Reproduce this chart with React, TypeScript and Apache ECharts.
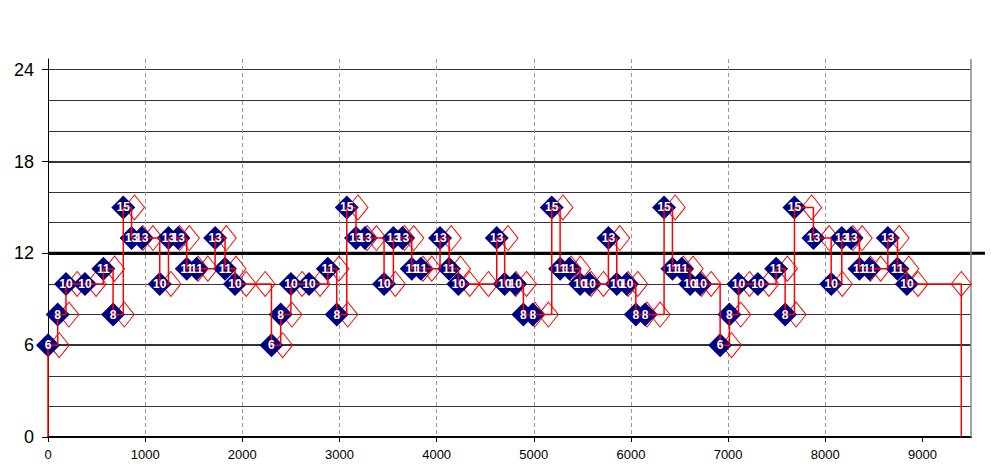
import React, { useEffect, useRef } from 'react';
import * as echarts from 'echarts';

// Actual (blue, labelled) points
const blueX = [
  0, 100, 185, 380, 570, 670, 775, 860, 965, 1150, 1240, 1340, 1428, 1530, 1720, 1822, 1925,
  2300, 2395, 2500, 2687, 2880, 2972, 3075, 3170, 3263, 3459, 3555, 3648, 3744, 3837, 4035, 4128, 4224,
  4619, 4700, 4808, 4893, 4990, 5185, 5271, 5367, 5477, 5572, 5768, 5854, 5957, 6050, 6146,
  6341, 6427, 6523, 6609, 6712, 6918, 7014, 7107, 7306, 7494, 7587, 7683, 7878, 8061, 8170,
  8266, 8352, 8455, 8644, 8743, 8840,
];
const blueY = [
  6, 8, 10, 10, 11, 8, 15, 13, 13, 10, 13, 13, 11, 11, 13, 11, 10,
  6, 8, 10, 10, 11, 8, 15, 13, 13, 10, 13, 13, 11, 11, 13, 11, 10,
  13, 10, 10, 8, 8, 15, 11, 11, 10, 10, 13, 10, 10, 8, 8,
  15, 11, 11, 10, 10, 6, 8, 10, 10, 11, 8, 15, 13, 10, 13,
  13, 11, 11, 13, 11, 10,
];

// Planned (red hollow) points
const redX = [
  115, 215, 300, 495, 685, 785, 890, 975, 1080, 1265, 1355, 1455, 1545, 1645, 1835, 1935, 2040,
  2235, 2415, 2510, 2615, 2800, 2995, 3085, 3190, 3285, 3380, 3575, 3670, 3765, 3860, 3950, 4150,
  4245, 4340, 4533, 4735, 4815, 4925, 5010, 5150, 5300, 5385, 5480, 5590, 5717, 5885, 5970, 6070,
  6165, 6300, 6455, 6540, 6640, 6725, 6825, 7035, 7130, 7220, 7420, 7610, 7700, 7860, 8040,
  8175, 8285, 8380, 8465, 8570, 8760, 8860, 8955, 9400,
];
const redY = [
  6, 8, 10, 10, 11, 8, 15, 13, 13, 10, 13, 13, 11, 11, 13, 11, 10,
  10, 6, 8, 10, 10, 11, 8, 15, 13, 13, 10, 13, 13, 11, 11, 13,
  11, 10, 10, 13, 10, 10, 8, 8, 15, 11, 11, 10, 10, 13, 10, 10,
  8, 8, 15, 11, 11, 10, 10, 6, 8, 10, 10, 11, 8, 15, 13,
  10, 13, 13, 11, 11, 13, 11, 10, 10,
];

const xTickLabels = [0, 1000, 2000, 3000, 4000, 5000, 6000, 7000, 8000, 9000];
const yTickLabels = [0, 6, 12, 18, 24];
const thresholdValue = 12;
const xMax = 9500;
const yMax = 24.7;

export default function App() {
  const ref = useRef<HTMLDivElement>(null);

  useEffect(() => {
    if (!ref.current) return;
    const chart = echarts.init(ref.current, null, { renderer: 'svg' });

    const blueData = blueX.map((x, i) => [x, blueY[i]]);
    const redData = redX.map((x, i) => [x, redY[i]]);
    const lastRed = redData[redData.length - 1];
    const lineData = [[blueX[0], 0], ...blueData, [lastRed[0], lastRed[1]], [lastRed[0], 0]];

    chart.setOption({
      animation: false,
      grid: { left: 48, right: 20, top: 59, bottom: 39 },
      xAxis: {
        type: 'value',
        min: 0,
        max: xMax,
        interval: 1000,
        axisLine: { show: true, onZero: false, lineStyle: { color: '#000', width: 2 } },
        axisTick: { show: true, length: 5, lineStyle: { color: '#000' }, customValues: xTickLabels },
        axisLabel: {
          color: '#000',
          fontSize: 13,
          fontFamily: 'Arial',
          margin: 11,
          customValues: xTickLabels,
          formatter: (v: number) => (xTickLabels.includes(v) ? String(v) : ''),
        },
        splitLine: {
          show: true,
          showMaxLine: false,
          lineStyle: { color: '#999', type: [4, 3], width: 1 },
        },
      },
      yAxis: [
        {
          type: 'value',
          position: 'right',
          min: 0,
          max: yMax,
          interval: 2,
          axisLine: { show: false },
          axisTick: { show: false },
          axisLabel: { show: false },
          splitLine: {
            show: true,
            showMinLine: false,
            showMaxLine: false,
            lineStyle: { color: '#333', width: 1 },
          },
        },
        {
          type: 'value',
          position: 'left',
          min: 0,
          max: yMax,
          interval: 6,
          axisLine: { show: true, onZero: false, lineStyle: { color: '#000', width: 1 } },
          axisTick: { show: true, length: 6, lineStyle: { color: '#000' }, customValues: yTickLabels },
          axisLabel: {
            color: '#000',
            fontSize: 18,
            fontFamily: 'Arial',
            margin: 14,
            customValues: yTickLabels,
            formatter: (v: number) => (yTickLabels.includes(v) ? String(v) : ''),
          },
          splitLine: {
            show: true,
            showMinLine: false,
            showMaxLine: false,
            lineStyle: { color: '#333', width: 2 },
          },
        },
      ],
      series: [
        {
          type: 'scatter',
          name: 'planned',
          yAxisIndex: 1,
          z: 2,
          symbol: 'diamond',
          symbolSize: [20, 25],
          itemStyle: { color: 'rgba(0,0,0,0)', borderColor: '#ff0000', borderWidth: 1, opacity: 1 },
          data: redData,
        },
        {
          type: 'scatter',
          name: 'actual',
          yAxisIndex: 1,
          z: 3,
          symbol: 'diamond',
          symbolSize: 24,
          itemStyle: { color: '#000080', opacity: 1 },
          data: blueData,
        },
        {
          type: 'line',
          name: 'path',
          yAxisIndex: 1,
          z: 4,
          step: 'end',
          showSymbol: false,
          symbol: 'none',
          lineStyle: { color: '#ff0000', width: 1.5 },
          data: lineData,
        },
        {
          type: 'scatter',
          name: 'actual labels',
          yAxisIndex: 1,
          z: 5,
          symbol: 'diamond',
          symbolSize: 24,
          silent: true,
          itemStyle: { color: 'rgba(0,0,0,0)', opacity: 1 },
          label: {
            show: true,
            position: 'inside',
            color: '#fff',
            fontSize: 12,
            fontWeight: 'bold',
            fontFamily: 'Arial',
            formatter: (p: any) => String(p.value[1]),
          },
          data: blueData,
        },
      ],
    });

    const x0 = chart.convertToPixel({ xAxisIndex: 0 }, 0) as number;
    const xR = chart.convertToPixel({ xAxisIndex: 0 }, xMax) as number;
    const yT = chart.convertToPixel({ yAxisIndex: 1 }, yMax) as number;
    const yB = chart.convertToPixel({ yAxisIndex: 1 }, 0) as number;
    const y12 = chart.convertToPixel({ yAxisIndex: 1 }, thresholdValue) as number;

    chart.setOption({
      graphic: [
        {
          type: 'line',
          z: 1,
          shape: { x1: x0, y1: y12, x2: xR + 14, y2: y12 },
          style: { stroke: '#000', lineWidth: 3 },
        },
        {
          type: 'line',
          z: 1,
          shape: { x1: xR, y1: yT, x2: xR, y2: yB },
          style: { stroke: '#888', lineWidth: 1.5 },
        },
      ],
    });

    return () => chart.dispose();
  }, []);

  return (
    <div
      ref={ref}
      style={{ position: 'fixed', left: 0, top: 0, width: 991, height: 476, background: '#fff' }}
    />
  );
}
